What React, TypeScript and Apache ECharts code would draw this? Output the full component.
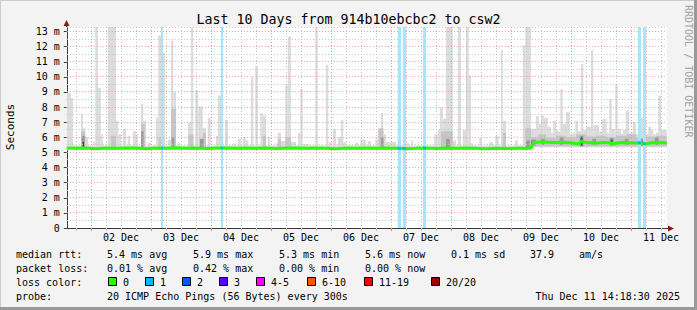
import React, { useEffect, useRef } from "react";
import * as echarts from "echarts";

// hours since 01 Dec 00:00
const X_MIN = 14.31;
const X_MAX = 254.31;
const Y_MAX = 13.3;

const dayLabelHours = [36, 60, 84, 108, 132, 156, 180, 204, 228, 252];
const dayLabels = ["02 Dec", "03 Dec", "04 Dec", "05 Dec", "06 Dec", "07 Dec", "08 Dec", "09 Dec", "10 Dec", "11 Dec"];
const majorGridHours = [24, 48, 72, 96, 120, 144, 168, 192, 216, 240];
const minorGridHours = [18, 30, 36, 42, 54, 60, 66, 78, 84, 90, 102, 108, 114, 126, 132, 138, 150, 156, 162, 174, 180, 186, 198, 204, 210, 222, 228, 234, 246, 252];
const yTickValues = [0, 1, 2, 3, 4, 5, 6, 7, 8, 9, 10, 11, 12, 13];
const yMajorGrid = [1, 2, 3, 4, 5, 6, 7, 8, 9, 10, 11, 12, 13];
const yMinorGrid = [0.5, 1.5, 2.5, 3.5, 4.5, 5.5, 6.5, 7.5, 8.5, 9.5, 10.5, 11.5, 12.5, 13.3];

// smoke layers: [startHour, endHour, low ms, high ms]
const baseSmoke = [
  [14.31, 200, 5.15, 5.48],
  [200, 254.31, 5.35, 6.2],
];
const lightSmoke = [
  [14.31, 16, 5.15, 8.95], [16, 16.8, 5.15, 8.6], [20, 20.8, 5.15, 7.55], [20.8, 21.7, 5.15, 6.6],
  [21.7, 22.8, 5.15, 6.0], [24.8, 25.7, 5.15, 5.7], [25.7, 26.8, 5.15, 13.3], [26.8, 27.9, 5.15, 9.28],
  [27.9, 28.7, 5.15, 6.2], [30.7, 34, 5.15, 13.3], [34, 34.9, 5.15, 7.1], [34.9, 36, 5.15, 6.2],
  [36.7, 38, 5.15, 6.55], [38.7, 39.7, 5.15, 6.1], [40.7, 42, 5.15, 6.4], [42, 42.8, 5.15, 6.2],
  [44, 44.9, 5.15, 8.22], [44.9, 46, 5.15, 7.1], [46.8, 48, 5.15, 5.65], [50, 50.9, 5.15, 7.3],
  [50.9, 52.7, 5.15, 12.75], [52.7, 53.7, 5.15, 11.6], [54.7, 56, 5.15, 5.85], [56, 56.9, 5.15, 12.4],
  [56.9, 58, 5.15, 9.0], [58.7, 59.6, 5.15, 5.65], [62.8, 64, 5.15, 7.0], [64, 64.9, 5.15, 13.3],
  [65.7, 66.9, 5.15, 9.1], [66.9, 68.7, 5.15, 8.05], [68.7, 70, 5.15, 6.6], [70.7, 71.9, 5.15, 7.3],
  [74, 74.8, 5.15, 6.1], [74.8, 76, 5.15, 8.77], [77.6, 78.8, 5.15, 7.15], [80.7, 82, 5.15, 5.6],
  [82.7, 84, 5.15, 5.9], [84.7, 86, 5.15, 6.0], [86, 86.9, 5.15, 5.8], [88, 88.9, 5.15, 10.0],
  [89.7, 90.8, 5.15, 10.7], [91.7, 92.7, 5.15, 7.6], [92.7, 94, 5.15, 7.45], [94.7, 95.6, 5.15, 6.0],
  [98, 98.7, 5.15, 5.6], [98.7, 100, 5.15, 6.3], [100, 101.7, 5.15, 5.75], [101.7, 102.7, 5.15, 9.5],
  [102.7, 104, 5.15, 12.67], [104, 106, 5.15, 5.7], [106.8, 107.7, 5.15, 6.3], [107.7, 108.7, 5.15, 9.2],
  [108.7, 111.3, 5.15, 5.55], [113.7, 114.7, 5.15, 13.3], [118, 118.9, 5.15, 10.8], [119.3, 120.4, 5.15, 5.7],
  [120.7, 122, 5.15, 6.57], [122.7, 124, 5.15, 6.0], [124, 124.9, 5.15, 7.15], [124.9, 126, 5.15, 5.7],
  [129.7, 130.8, 5.15, 5.65], [131.7, 134, 5.15, 5.85], [134.7, 136, 5.15, 5.75], [137.7, 138.8, 5.15, 5.85],
  [138.8, 140, 5.15, 6.57], [140, 140.9, 5.15, 7.6], [140.9, 142, 5.15, 6.2], [142, 146, 5.15, 5.7],
  [150, 151.3, 5.15, 5.6], [152, 152.7, 5.15, 5.8], [161.3, 162.7, 5.15, 6.2], [162.7, 163.6, 5.15, 6.5],
  [163.6, 164.7, 5.15, 8.0], [164.7, 166, 5.15, 7.23], [166, 168.7, 5.15, 13.3], [168.7, 170, 5.15, 5.8],
  [170.7, 172, 5.15, 13.3], [172.7, 174, 5.15, 6.5], [174, 175.1, 5.15, 13.3], [175.1, 176, 5.15, 10.1],
  [176, 176.8, 5.15, 5.6], [179.3, 180.4, 5.15, 5.95], [183.3, 184.7, 5.15, 5.7], [185.7, 187.1, 5.15, 6.1],
  [188, 188.7, 5.15, 11.8], [188.7, 190, 5.15, 7.1], [193.7, 194.7, 5.15, 5.8], [196.7, 197.7, 5.15, 12.08],
  [197.7, 200, 5.15, 13.3], [200, 202, 5.35, 6.57], [202, 203.1, 5.35, 7.4], [203.1, 204, 5.35, 6.9],
  [204, 205.1, 5.35, 7.45], [205.1, 206.7, 5.35, 7.3], [206.7, 208, 5.35, 6.7], [208, 208.9, 5.35, 6.3],
  [208.9, 210, 5.35, 7.1], [210, 210.8, 5.35, 6.5], [210.8, 211.7, 5.35, 6.4], [211.7, 212.7, 5.35, 9.2],
  [212.7, 214, 5.35, 6.9], [214, 215.6, 5.35, 7.67], [215.6, 216.9, 5.35, 6.2], [216.9, 217.7, 5.35, 6.3],
  [217.7, 218.8, 5.35, 7.1], [218.8, 220, 5.35, 6.4], [220, 220.9, 5.35, 10.87], [220.9, 222, 5.35, 6.5],
  [222, 224, 5.35, 6.7], [224, 224.9, 5.35, 11.8], [224.9, 227.3, 5.35, 6.8], [227.3, 228.4, 5.35, 6.4],
  [228.4, 230.3, 5.35, 7.2], [230.3, 231.3, 5.35, 6.3], [231.3, 232.3, 5.35, 8.55], [232.3, 233.7, 5.35, 6.55],
  [233.7, 234.7, 5.35, 9.5], [234.7, 236, 5.35, 6.57], [236, 236.7, 5.35, 6.2], [236.7, 238, 5.35, 6.5],
  [238, 239.3, 5.35, 7.78], [239.3, 240.7, 5.35, 6.3], [240.7, 242, 5.35, 7.0], [242, 242.8, 5.35, 6.2],
  [242.8, 244, 5.35, 6.3], [244, 244.9, 5.35, 7.3], [244.9, 245.7, 5.35, 6.5], [245.7, 246.9, 5.35, 6.2],
  [246.9, 248, 5.35, 6.7], [248, 248.9, 5.35, 6.5], [248.9, 250, 5.35, 6.0], [250, 250.9, 5.35, 6.3],
  [250.9, 252, 5.35, 8.77], [252, 254.31, 5.35, 6.5],
];
const midSmoke = [
  [20, 21.7, 5.2, 6.4], [32, 34, 5.2, 6.1], [44, 45.5, 5.2, 6.9], [51, 53, 5.2, 6.0],
  [56, 58, 5.2, 7.9], [63, 65, 5.2, 6.2], [68.7, 70, 5.2, 6.3], [92.7, 94, 5.2, 6.1],
  [98.7, 100, 5.2, 5.9], [101.7, 104, 5.2, 6.0], [139, 141, 5.2, 6.6], [164, 168.7, 5.2, 6.4],
  [188.7, 190, 5.2, 6.3], [197.7, 200, 5.2, 6.6],
  [200, 203, 5.4, 6.0], [203, 206, 5.4, 6.2], [206, 210, 5.4, 5.95], [210, 214, 5.4, 6.1],
  [214, 218, 5.4, 6.0], [218, 222, 5.4, 6.2], [222, 226, 5.4, 6.05], [226, 230, 5.4, 6.1],
  [230, 234, 5.4, 6.0], [234, 238, 5.4, 6.1], [238, 242, 5.4, 6.2], [242, 246, 5.4, 5.95],
  [246, 250, 5.4, 6.05], [250, 254.31, 5.4, 6.1],
];
const darkSmoke = [
  [20.3, 21.5, 5.3, 6.1], [44, 45, 5.3, 6.4], [56.3, 57.3, 5.3, 6.0], [67.5, 69, 5.3, 5.9],
  [140, 141, 5.3, 6.0], [166, 167.5, 5.3, 5.9], [198, 199.5, 5.3, 5.8], [200, 202, 5.45, 5.85],
  [204, 205.5, 5.5, 5.9], [211.5, 213, 5.5, 6.0], [219.5, 221, 5.4, 6.1], [224.5, 226, 5.5, 5.9],
  [231.5, 233, 5.45, 5.95], [237.5, 239, 5.5, 5.9], [243.5, 246, 5.45, 5.9], [249.5, 251, 5.5, 6.0],
];
const blackSmoke = [
  [20.6, 21.2, 5.3, 5.7], [200.2, 200.8, 5.35, 5.7], [219.8, 220.6, 5.45, 6.0],
  [232, 232.6, 5.5, 5.85], [244.6, 245.2, 5.5, 5.75],
];

// median rtt [hour, ms]
const medianRtt = [
  [14.31, 5.3], [18, 5.28], [22, 5.3], [26, 5.25], [30, 5.3], [34, 5.27], [38, 5.3], [42, 5.29],
  [46, 5.25], [50, 5.3], [54, 5.28], [58, 5.31], [62, 5.27], [66, 5.3], [70, 5.26], [74, 5.29],
  [78, 5.3], [82, 5.27], [86, 5.3], [90, 5.28], [94, 5.3], [98, 5.26], [102, 5.29], [106, 5.3],
  [110, 5.27], [114, 5.3], [118, 5.28], [122, 5.25], [126, 5.3], [130, 5.28], [134, 5.3], [138, 5.27],
  [142, 5.3], [146, 5.28], [150, 5.25], [154, 5.27], [158, 5.3], [162, 5.26], [166, 5.3], [170, 5.28],
  [174, 5.3], [178, 5.27], [182, 5.25], [186, 5.27], [190, 5.26], [194, 5.27], [198, 5.28], [200, 5.3],
  [200.8, 5.62], [204, 5.7], [208, 5.66], [212, 5.68], [216, 5.64], [219, 5.55], [220, 5.75], [222, 5.65],
  [226, 5.63], [230, 5.68], [233, 5.58], [236, 5.66], [240, 5.64], [244, 5.62], [246, 5.55], [248, 5.64],
  [252, 5.66], [254.31, 5.62],
];

// periods with 1/20 loss [startHour, endHour, median ms]
const lossPeriods = [
  [52.0, 52.8, 5.29], [76.0, 76.8, 5.29], [146.7, 148.0, 5.28], [148.7, 150.0, 5.27],
  [156.8, 158.0, 5.29], [242.8, 244.0, 5.63], [244.8, 246.0, 5.58],
];

const lossLabels = ["0", "1", "2", "3", "4-5", "6-10", "11-19", "20/20"];
const lossColors = ["#26ff00", "#00b8ff", "#0059ff", "#5e00ff", "#ff00ff", "#ff5500", "#ff0000", "#a00000"];

const statsRtt = ["5.4 ms avg", "5.9 ms max", "5.3 ms min", "5.6 ms now", "0.1 ms sd", "37.9", "am/s"];
const statsLoss = ["0.01 % avg", "0.42 % max", "0.00 % min", "0.00 % now"];

const FONT = '"DejaVu Sans Mono", monospace';

function rectLayer(data: number[][], color: string, z: number) {
  return {
    type: "custom",
    data,
    z,
    silent: true,
    encode: { x: [0, 1], y: [2, 3] },
    renderItem: (params: any, api: any) => {
      const p0 = api.coord([api.value(0), api.value(3)]);
      const p1 = api.coord([api.value(1), api.value(2)]);
      return {
        type: "rect",
        shape: { x: p0[0], y: p0[1], width: p1[0] - p0[0], height: p1[1] - p0[1] },
        style: { fill: color },
      };
    },
  };
}

function vGrid(hours: number[], color: string, tickColor: string, z: number) {
  return {
    type: "custom",
    data: hours.map((h) => [h, 0]),
    z,
    silent: true,
    encode: { x: 0, y: 1 },
    renderItem: (params: any, api: any) => {
      const cs = params.coordSys;
      const p = api.coord([api.value(0), 0]);
      const x = Math.floor(p[0]) + 0.5;
      return {
        type: "group",
        children: [
          { type: "line", shape: { x1: x, y1: cs.y, x2: x, y2: cs.y + cs.height }, style: { stroke: color, lineWidth: 1, lineDash: [1, 2] } },
          { type: "line", shape: { x1: x, y1: cs.y + cs.height, x2: x, y2: cs.y + cs.height + 3 }, style: { stroke: tickColor, lineWidth: 1 } },
        ],
      };
    },
  };
}

function hGrid(values: number[], color: string, z: number) {
  return {
    type: "custom",
    data: values.map((v) => [X_MIN, v]),
    z,
    silent: true,
    encode: { x: 0, y: 1 },
    renderItem: (params: any, api: any) => {
      const cs = params.coordSys;
      const p = api.coord([X_MIN, api.value(1)]);
      const y = Math.floor(p[1]) + 0.5;
      return {
        type: "line",
        shape: { x1: cs.x, y1: y, x2: cs.x + cs.width, y2: y },
        style: { stroke: color, lineWidth: 1, lineDash: [1, 2] },
      };
    },
  };
}

export default function App() {
  const ref = useRef<HTMLDivElement>(null);
  useEffect(() => {
    if (!ref.current) return;
    const chart = echarts.init(ref.current, undefined, { renderer: "svg" });

    const rowY = [254, 268, 282, 296];
    const statX = [107, 193, 279, 365, 451, 530, 579];
    const swatchX = [108, 145, 182, 219, 256, 307, 364, 431];
    const txt = (text: string, x: number, y: number, extra: any = {}) => ({
      type: "text",
      x,
      y,
      silent: true,
      style: { text, font: `10px ${FONT}`, fill: "#000", align: "left", verticalAlign: "middle", ...extra },
    });

    const graphics: any[] = [
      // frame
      { type: "line", shape: { x1: 0, y1: 0.5, x2: 697, y2: 0.5 }, style: { stroke: "#cbcbcb", lineWidth: 1 } },
      { type: "line", shape: { x1: 0.5, y1: 0, x2: 0.5, y2: 310 }, style: { stroke: "#cbcbcb", lineWidth: 1 } },
      { type: "line", shape: { x1: 0, y1: 308.5, x2: 697, y2: 308.5 }, style: { stroke: "#999", lineWidth: 3 } },
      { type: "line", shape: { x1: 695.5, y1: 0, x2: 695.5, y2: 310 }, style: { stroke: "#999", lineWidth: 3 } },
      // title
      { type: "text", x: 348.5, y: 19, silent: true, style: { text: "Last 10 Days from 914b10ebcbc2 to csw2", font: `13.3px ${FONT}`, fill: "#000", align: "center", verticalAlign: "middle" } },
      // vertical label
      { type: "text", x: 10, y: 127, rotation: Math.PI / 2, silent: true, style: { text: "Seconds", font: `11px ${FONT}`, fill: "#000", align: "center", verticalAlign: "middle" } },
      // watermark
      { type: "text", x: 688, y: 5, rotation: -Math.PI / 2, silent: true, style: { text: "RRDTOOL / TOBI OETIKER", font: `10px ${FONT}`, fill: "#a0a0a0", align: "left", verticalAlign: "middle" } },
      // axis arrows
      { type: "line", shape: { x1: 66.5, y1: 27, x2: 66.5, y2: 23 }, style: { stroke: "#3a3a3a", lineWidth: 1 } },
      { type: "polygon", shape: { points: [[63.5, 26], [69.5, 26], [66.5, 20]] }, style: { fill: "#8b1a1a" } },
      { type: "line", shape: { x1: 666, y1: 228.5, x2: 670, y2: 228.5 }, style: { stroke: "#3a3a3a", lineWidth: 1 } },
      { type: "polygon", shape: { points: [[668, 225.5], [668, 231.5], [674, 228.5]] }, style: { fill: "#8b1a1a" } },
      // legend rows
      txt("median rtt:", 16, rowY[0]),
      txt("packet loss:", 16, rowY[1]),
      txt("loss color:", 16, rowY[2]),
      txt("probe:", 16, rowY[3]),
      txt("20 ICMP Echo Pings (56 Bytes) every 300s", 107, rowY[3]),
      txt("Thu Dec 11 14:18:30 2025", 680, rowY[3], { align: "right" }),
    ];
    statsRtt.forEach((s, i) => graphics.push(txt(s, statX[i], rowY[0])));
    statsLoss.forEach((s, i) => graphics.push(txt(s, statX[i], rowY[1])));
    lossLabels.forEach((l, i) => {
      graphics.push({ type: "rect", shape: { x: swatchX[i] + 0.5, y: rowY[2] - 4.5, width: 8, height: 8 }, style: { fill: lossColors[i], stroke: "#000", lineWidth: 1 } });
      graphics.push(txt(l, swatchX[i] + 15, rowY[2]));
    });

    const option: any = {
      animation: false,
      backgroundColor: "#f3f3f3",
      grid: { left: 66.8, right: 30.2, top: 27, bottom: 82, show: true, backgroundColor: "#ffffff", borderWidth: 0 },
      xAxis: {
        type: "value",
        min: X_MIN,
        max: X_MAX,
        axisLine: { show: true, lineStyle: { color: "#3a3a3a", width: 1 } },
        axisTick: { show: false },
        splitLine: { show: false },
        axisLabel: {
          customValues: dayLabelHours,
          formatter: (v: number) => {
            const i = dayLabelHours.indexOf(Math.round(v));
            return i >= 0 ? dayLabels[i] : "";
          },
          fontFamily: "DejaVu Sans Mono",
          fontSize: 10,
          color: "#000",
          margin: 4,
        },
      },
      yAxis: {
        type: "value",
        min: 0,
        max: Y_MAX,
        axisLine: { show: true, lineStyle: { color: "#3a3a3a", width: 1 } },
        axisTick: { show: true, customValues: yTickValues, length: 3, lineStyle: { color: "#3a3a3a" } },
        splitLine: { show: false },
        axisLabel: {
          customValues: yTickValues,
          formatter: (v: number) => (v === 0 ? "0" : `${v} m`),
          fontFamily: "DejaVu Sans Mono",
          fontSize: 10,
          color: "#000",
          margin: 7,
        },
      },
      graphic: graphics,
      series: [
        rectLayer(baseSmoke, "#e0e0e0", 1),
        rectLayer(lightSmoke, "#dcdcdc", 2),
        rectLayer(midSmoke, "#c6c6c6", 3),
        rectLayer(darkSmoke, "#9a9a9a", 4),
        rectLayer(blackSmoke, "#4a4a4a", 5),
        hGrid(yMinorGrid, "#c4c4c4", 6),
        vGrid(minorGridHours, "#c4c4c4", "#c4c4c4", 6),
        hGrid(yMajorGrid, "#f49a9a", 7),
        vGrid(majorGridHours, "#f49a9a", "#f08080", 7),
        {
          type: "custom",
          data: lossPeriods.map((p) => [p[0], p[1], 0, Y_MAX]),
          z: 8,
          silent: true,
          encode: { x: [0, 1], y: [2, 3] },
          renderItem: (params: any, api: any) => {
            const p0 = api.coord([api.value(0), api.value(3)]);
            const p1 = api.coord([api.value(1), api.value(2)]);
            return {
              type: "rect",
              shape: { x: p0[0], y: p0[1], width: p1[0] - p0[0], height: p1[1] - p0[1] },
              style: { fill: "#a8e4fa" },
            };
          },
        },
        {
          type: "line",
          data: medianRtt,
          z: 10,
          silent: true,
          showSymbol: false,
          symbol: "none",
          lineStyle: { color: lossColors[0], width: 3 },
        },
        {
          type: "custom",
          data: lossPeriods.map((p) => [p[0], p[1], p[2] - 0.09, p[2] + 0.09]),
          z: 11,
          silent: true,
          encode: { x: [0, 1], y: [2, 3] },
          renderItem: (params: any, api: any) => {
            const p0 = api.coord([api.value(0), api.value(3)]);
            const p1 = api.coord([api.value(1), api.value(2)]);
            return {
              type: "rect",
              shape: { x: p0[0], y: p0[1], width: p1[0] - p0[0], height: p1[1] - p0[1] },
              style: { fill: lossColors[1] },
            };
          },
        },
      ],
    };
    chart.setOption(option);
    return () => chart.dispose();
  }, []);
  return <div ref={ref} style={{ position: "absolute", left: 0, top: 0, width: 697, height: 310 }} />;
}
